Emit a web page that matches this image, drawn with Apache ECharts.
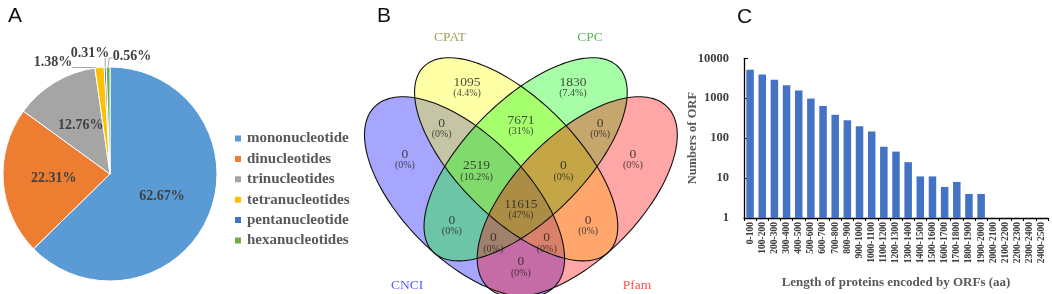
<!DOCTYPE html>
<html>
<head>
<meta charset="utf-8">
<script src="https://cdn.jsdelivr.net/npm/echarts@6/dist/echarts.min.js"></script>
<style>
  html, body { margin: 0; padding: 0; background: #fff; }
  #main { width: 1052px; height: 294px; }
</style>
</head>
<body>
<div id="main"></div>
<script>
// ---- A: SSR motif types (percent) ----
var motifNames = ['mononucleotide', 'dinucleotides', 'trinucleotides', 'tetranucleotides', 'pentanucleotide', 'hexanucleotides'];
var motifShare = [62.67, 22.31, 12.76, 1.38, 0.31, 0.56];

// ---- B: Venn of the four coding predictors ----
var vennSets = ['CNCI', 'CPAT', 'CPC', 'Pfam'];
var vennRegions = ['CPAT', 'CPC', 'CPAT&CPC', 'CNCI&CPAT', 'CPC&Pfam', 'CNCI', 'Pfam',
  'CNCI&CPAT&CPC', 'CPAT&CPC&Pfam', 'CNCI&CPAT&CPC&Pfam', 'CNCI&CPC', 'CPAT&Pfam',
  'CNCI&CPC&Pfam', 'CNCI&CPAT&Pfam', 'CNCI&Pfam'];
var vennCounts = [1095, 1830, 7671, 0, 0, 0, 0, 2519, 0, 11615, 0, 0, 0, 0, 0];

// ---- C: ORF protein length distribution ----
var lengthBins = ['0-100', '100-200', '200-300', '300-400', '400-500', '500-600', '600-700', '700-800',
  '800-900', '900-1000', '1000-1100', '1100-1200', '1200-1300', '1300-1400', '1400-1500', '1500-1600',
  '1600-1700', '1700-1800', '1800-1900', '1900-2000', '2000-2100', '2100-2200', '2200-2300', '2300-2400', '2400-2500'];
var orfCounts = [5150, 3950, 2900, 2120, 1560, 980, 640, 385, 280, 200, 147, 61, 46, 25, 11, 11, 6, 8, 4, 4, 0, 0, 0, 0, 0];
var yTicks = [1, 10, 100, 1000, 10000];

// venn layout, in unit coords (ellipse center, semi axes, rotation)
var vennShapes = [
  { cx: 0.345, cy: 0.475, a: 0.35, b: 0.17, rot: -45, fill: 'rgba(0,0,255,0.35)' },
  { cx: 0.487, cy: 0.578, a: 0.36, b: 0.163, rot: -45, fill: 'rgba(255,255,0,0.35)' },
  { cx: 0.513, cy: 0.578, a: 0.36, b: 0.163, rot: 45, fill: 'rgba(0,255,0,0.35)' },
  { cx: 0.655, cy: 0.475, a: 0.35, b: 0.17, rot: 45, fill: 'rgba(255,0,0,0.35)' }
];
var vennSetColors = ['#2f2fff', '#8c8630', '#2f9e2f', '#ff2020'];
var vennSetPos = [[0.187, 0.232], [0.305, 0.912], [0.69, 0.912], [0.819, 0.232]];
var vennRegionPos = [[0.352, 0.777], [0.643, 0.777], [0.5, 0.672], [0.282, 0.662], [0.718, 0.662],
  [0.181, 0.578], [0.808, 0.578], [0.378, 0.546], [0.617, 0.546], [0.5, 0.439], [0.31, 0.397],
  [0.685, 0.397], [0.424, 0.348], [0.571, 0.348], [0.5, 0.282]];

// where the three tiny slices put their labels
var smallLabelPos = { 3: [53, 62], 4: [90, 53], 5: [132, 56] };

var serif = 'Liberation Serif';
var vennTotal = vennCounts.reduce(function (s, v) { return s + v; }, 0);

function pctText(v) {
  var p = (v / vennTotal * 100).toFixed(1);
  if (p.slice(-2) === '.0') p = p.slice(0, -2);
  return '(' + p + '%)';
}

function ellipsePoints(e, api) {
  var pts = [];
  var r = e.rot * Math.PI / 180;
  for (var i = 0; i < 180; i++) {
    var t = i / 180 * Math.PI * 2;
    var ex = e.a * Math.cos(t), ey = e.b * Math.sin(t);
    pts.push(api.coord([
      e.cx + ex * Math.cos(r) - ey * Math.sin(r),
      e.cy + ex * Math.sin(r) + ey * Math.cos(r)
    ]));
  }
  return pts;
}

var chart = echarts.init(document.getElementById('main'));

chart.setOption({
  animation: false,
  color: ['#5B9BD5', '#ED7D31', '#A5A5A5', '#FFC000', '#4472C4', '#70AD47'],
  title: [
    { text: 'A', left: 3, top: 1, textStyle: { fontFamily: 'Liberation Sans', fontSize: 21, fontWeight: 'normal', color: '#111' } },
    { text: 'B', left: 372, top: 1, textStyle: { fontFamily: 'Liberation Sans', fontSize: 21, fontWeight: 'normal', color: '#111' } },
    { text: 'C', left: 732, top: 2, textStyle: { fontFamily: 'Liberation Sans', fontSize: 21, fontWeight: 'normal', color: '#111' } }
  ],
  legend: {
    orient: 'vertical',
    left: 228,
    top: 126,
    icon: 'rect',
    itemWidth: 8,
    itemHeight: 8,
    itemGap: 5.4,
    data: motifNames,
    textStyle: { fontFamily: serif, fontSize: 15, fontWeight: 'bold', color: '#595959' }
  },
  grid: [
    // C: bar chart
    { left: 744, top: 58.3, right: 4, bottom: 72.3 },
    // B: venn canvas (hidden axes)
    { left: 339.1, top: 5.9, width: 363.6, height: 287.2 }
  ],
  xAxis: [
    {
      gridIndex: 0,
      type: 'category',
      data: lengthBins,
      name: 'Length of proteins encoded by ORFs (aa)',
      nameLocation: 'middle',
      nameGap: 58,
      nameMoveOverlap: false,
      nameTextStyle: { fontFamily: serif, fontSize: 13, fontWeight: 'bold', color: '#595959' },
      axisLine: { lineStyle: { color: '#000', width: 1.3 } },
      axisTick: { show: true, interval: 0, length: 3, lineStyle: { color: '#000' } },
      axisLabel: { interval: 0, rotate: 90, margin: 4, fontFamily: serif, fontSize: 9.5, fontWeight: 'bold', color: '#404040' }
    },
    { gridIndex: 1, type: 'value', min: 0, max: 1, show: false }
  ],
  yAxis: [
    {
      gridIndex: 0,
      type: 'log',
      logBase: 10,
      min: yTicks[0],
      max: yTicks[yTicks.length - 1],
      name: 'Numbers of ORF',
      nameLocation: 'middle',
      nameRotate: 90,
      nameGap: 45,
      nameMoveOverlap: false,
      nameTextStyle: { fontFamily: serif, fontSize: 12.5, fontWeight: 'bold', color: '#595959' },
      axisLine: { show: true, lineStyle: { color: '#000', width: 1.3 } },
      axisTick: { show: true, inside: true, length: 4, lineStyle: { color: '#000' } },
      splitLine: { show: false },
      axisLabel: {
        margin: 15,
        fontFamily: serif,
        fontSize: 12.5,
        fontWeight: 'bold',
        color: '#404040',
        formatter: function (v) { return String(Math.round(v)); }
      }
    },
    { gridIndex: 1, type: 'value', min: 0.21, max: 1, show: false }
  ],
  series: [
    {
      name: 'SSR',
      type: 'pie',
      center: [110, 174],
      radius: 107,
      startAngle: 90,
      avoidLabelOverlap: false,
      itemStyle: { borderColor: '#fff', borderWidth: 1 },
      label: {
        position: 'inside',
        fontFamily: serif,
        fontSize: 14,
        fontWeight: 'bold',
        color: '#404040',
        formatter: function (p) { return p.value.toFixed(2) + '%'; }
      },
      labelLine: { show: false },
      labelLayout: function (params) {
        var pos = smallLabelPos[params.dataIndex];
        if (!pos || !params.labelLinePoints) return;
        var edge = params.labelLinePoints[0];
        var w = params.labelRect.width;
        var pts;
        if (params.dataIndex === 3) pts = [edge, [pos[0] + w / 2, edge[1]]];
        else if (params.dataIndex === 4) pts = [edge, [edge[0], pos[1] + 5]];
        else pts = [edge, [edge[0] + 1, pos[1] + 2], [pos[0] - w / 2, pos[1] + 2]];
        return { x: pos[0], y: pos[1], align: 'center', verticalAlign: 'middle', labelLinePoints: pts };
      },
      data: motifNames.map(function (n, i) {
        var item = { name: n, value: motifShare[i] };
        if (smallLabelPos[i]) {
          item.label = { position: 'outside' };
          item.labelLine = { show: true, length: 6, length2: 6, lineStyle: { color: '#a6a6a6', width: 1 } };
        }
        return item;
      })
    },
    {
      // venn fills first, outlines drawn on top afterwards
      type: 'custom',
      xAxisIndex: 1,
      yAxisIndex: 1,
      silent: true,
      renderItem: function (params, api) {
        var e = vennShapes[params.dataIndex];
        return { type: 'polygon', shape: { points: ellipsePoints(e, api) }, style: { fill: e.fill } };
      },
      data: vennSets.map(function (s, i) { return [i]; })
    },
    {
      type: 'custom',
      xAxisIndex: 1,
      yAxisIndex: 1,
      silent: true,
      renderItem: function (params, api) {
        var e = vennShapes[params.dataIndex];
        return { type: 'polygon', shape: { points: ellipsePoints(e, api) }, style: { fill: 'none', stroke: '#111', lineWidth: 1.1 } };
      },
      data: vennSets.map(function (s, i) { return [i]; })
    },
    {
      type: 'scatter',
      xAxisIndex: 1,
      yAxisIndex: 1,
      symbolSize: 0,
      silent: true,
      label: {
        show: true,
        position: 'inside',
        formatter: function (p) {
          return '{n|' + vennCounts[p.dataIndex] + '}\n{p|' + pctText(vennCounts[p.dataIndex]) + '}';
        },
        rich: {
          n: { fontFamily: serif, fontSize: 13.5, color: '#222', lineHeight: 12, align: 'center' },
          p: { fontFamily: serif, fontSize: 10, color: '#222', lineHeight: 10, align: 'center' }
        }
      },
      data: vennRegions.map(function (r, i) { return { name: r, value: vennRegionPos[i] }; })
    },
    {
      type: 'scatter',
      xAxisIndex: 1,
      yAxisIndex: 1,
      symbolSize: 0,
      silent: true,
      label: {
        show: true,
        position: 'inside',
        fontFamily: serif,
        fontSize: 13.5,
        formatter: '{b}'
      },
      data: vennSets.map(function (s, i) {
        return { name: s, value: vennSetPos[i], label: { color: vennSetColors[i] } };
      })
    },
    {
      name: 'ORF',
      type: 'bar',
      xAxisIndex: 0,
      yAxisIndex: 0,
      barWidth: 7.5,
      itemStyle: { color: '#4472C4' },
      data: orfCounts.map(function (v) { return v > 0 ? v : '-'; })
    }
  ]
});
</script>
</body>
</html>
